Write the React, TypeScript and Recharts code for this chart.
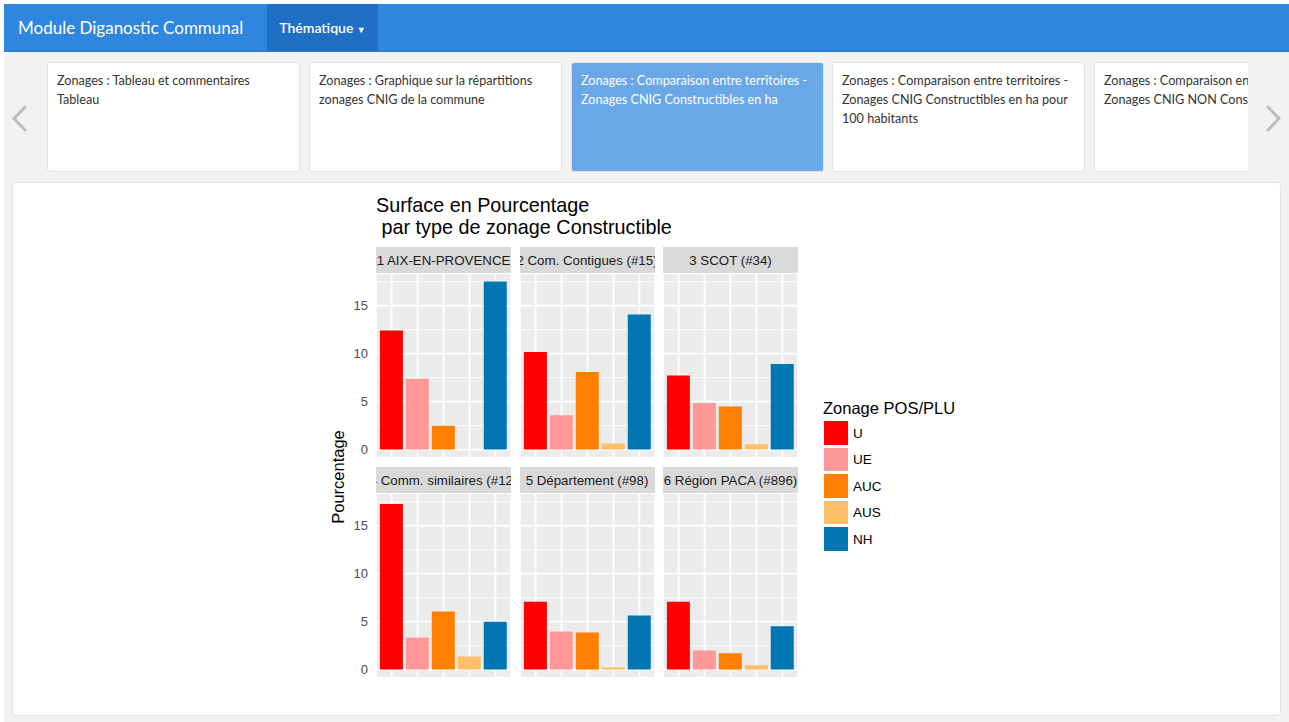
import React from 'react';
import { BarChart, Bar, XAxis, YAxis, CartesianGrid, Cell } from 'recharts';

// ---------- data ----------
const categories = ['U', 'UE', 'AUC', 'AUS', 'NH'];
const territories = [
  '1 AIX-EN-PROVENCE',
  '2 Com. Contigues (#15)',
  '3 SCOT (#34)',
  '4 Comm. similaires (#12)',
  '5 Département (#98)',
  '6 Région PACA (#896)',
];
const aixValues = [12.42, 7.4, 2.48, 0, 17.54];
const contiguesValues = [10.18, 3.59, 8.09, 0.63, 14.09];
const scotValues = [7.74, 4.85, 4.5, 0.56, 8.93];
const similairesValues = [17.26, 3.35, 6.07, 1.36, 4.99];
const departementValues = [7.08, 3.97, 3.87, 0.24, 5.65];
const regionValues = [7.08, 1.99, 1.71, 0.45, 4.53];
const yTicks = [0, 5, 10, 15];
const minorTicks = [2.5, 7.5, 12.5, 17.5];
const cardLabels = [
  'Zonages : Tableau et commentaires Tableau',
  'Zonages : Graphique sur la répartitions zonages CNIG de la commune',
  'Zonages : Comparaison entre territoires - Zonages CNIG Constructibles en ha',
  'Zonages : Comparaison entre territoires - Zonages CNIG Constructibles en ha pour 100 habitants',
  'Zonages : Comparaison entre territoires - Zonages CNIG NON Constructibles en ha',
];

// ---------- styles ----------
const palette = ['#FF0000', '#FF9999', '#FF7F00', '#FFBF69', '#0077B3'];
const allSeries = [aixValues, contiguesValues, scotValues, similairesValues, departementValues, regionValues];
const maxVal = Math.max(...allSeries.flat());
const domain: [number, number] = [-0.05 * maxVal, 1.05 * maxVal];

const PANEL_W = 135;
const PANEL_H = 185;
const AXIS_W = 40;
const colLefts = [376, 519.5, 663];
const rowTops = [273.3, 493.3];
const STRIP_H = 26.5;
const chartFont = '"Liberation Sans", Arial, Helvetica, sans-serif';
const uiFont = 'Lato, "Open Sans", sans-serif';

function Panel({ values, showAxis }: { values: number[]; showAxis: boolean }) {
  const data = categories.map((c, i) => ({ zone: c, value: values[i] }));
  const w = PANEL_W + (showAxis ? AXIS_W : 0);
  return (
    <BarChart
      width={w}
      height={PANEL_H}
      data={data}
      margin={{ top: 0, right: 0, bottom: 0, left: 0 }}
      barCategoryGap="5%"
    >
      <CartesianGrid fill="#EBEBEB" stroke="#FFFFFF" strokeWidth={0.9} vertical={false} yAxisId="minor" />
      <CartesianGrid stroke="#FFFFFF" strokeWidth={1.8} />
      <XAxis dataKey="zone" hide interval={0} padding={{ left: 2.6, right: 2.6 }} />
      <YAxis yAxisId="minor" hide type="number" domain={domain} ticks={minorTicks} interval={0} allowDataOverflow />
      <YAxis
        hide={!showAxis}
        width={AXIS_W}
        type="number"
        domain={domain}
        ticks={yTicks}
        interval={0}
        allowDataOverflow
        axisLine={false}
        tickLine={false}
        tick={{ fill: '#4D4D4D', fontSize: 13, fontFamily: chartFont }}
      />
      <Bar dataKey="value" isAnimationActive={false}>
        {data.map((d, i) => (
          <Cell key={d.zone} fill={palette[i]} />
        ))}
      </Bar>
    </BarChart>
  );
}

function Chevron({ left }: { left: boolean }) {
  return (
    <svg width={20} height={30} style={{ position: 'absolute', left: left ? 10 : 1263, top: 104 }}>
      <polyline
        points={left ? '16,2 4,14.5 16,27' : '4,2 16,14.5 4,27'}
        fill="none"
        stroke="#BDBDBD"
        strokeWidth={3}
      />
    </svg>
  );
}

export default function App() {
  const cardLefts = [47, 309, 571, 832, 1094];
  return (
    <div style={{ position: 'relative', width: 1289, height: 722, overflow: 'hidden', background: '#FFFFFF' }}>
      <style>{'body{margin:0}'}</style>
      {/* gray background */}
      <div style={{ position: 'absolute', left: 4, top: 4, width: 1285, height: 718, background: '#F2F2F2' }} />
      {/* navbar */}
      <div
        style={{
          position: 'absolute',
          left: 4,
          top: 4,
          width: 1285,
          height: 47,
          background: '#2E86DE',
          borderBottom: '1px solid #2A7CCF',
          fontFamily: uiFont,
        }}
      >
        <div style={{ position: 'absolute', left: 14, top: 0, height: 47, lineHeight: '47px', color: '#FFFFFF', fontSize: 17 }}>
          Module Diganostic Communal
        </div>
        <div
          style={{
            position: 'absolute',
            left: 263,
            top: 0,
            width: 111,
            height: 47,
            background: '#1F6FC4',
            color: '#FFFFFF',
            fontSize: 14,
            fontWeight: 600,
            lineHeight: '47px',
            textAlign: 'center',
          }}
        >
          Thématique <span style={{ fontSize: 9, verticalAlign: 'middle' }}>▼</span>
        </div>
      </div>
      {/* carousel */}
      <Chevron left />
      <Chevron left={false} />
      <div style={{ position: 'absolute', left: 0, top: 0, width: 1248, height: 180, overflow: 'hidden' }}>
        {cardLabels.map((label, i) => (
          <div
            key={label}
            style={{
              position: 'absolute',
              left: cardLefts[i],
              top: 62,
              width: 253,
              height: 110,
              boxSizing: 'border-box',
              border: '1px solid #E2E2E2',
              borderRadius: 3,
              background: i === 2 ? '#6AA7E7' : '#FFFFFF',
              color: i === 2 ? '#FFFFFF' : '#333333',
              fontFamily: uiFont,
              fontSize: 12.6,
              lineHeight: '19px',
              padding: '8px 9px',
            }}
          >
            <div style={{ width: 236 }}>{label}</div>
          </div>
        ))}
      </div>
      {/* content box */}
      <div
        style={{
          position: 'absolute',
          left: 12,
          top: 182,
          width: 1269,
          height: 534,
          boxSizing: 'border-box',
          background: '#FFFFFF',
          border: '1px solid #E3E3E3',
          borderRadius: 4,
        }}
      />
      {/* title */}
      <div
        style={{
          position: 'absolute',
          left: 376,
          top: 194.4,
          fontFamily: chartFont,
          fontSize: 19.8,
          lineHeight: '22px',
          color: '#000000',
          whiteSpace: 'pre',
        }}
      >
        {'Surface en Pourcentage\n par type de zonage Constructible'}
      </div>
      {/* y axis title */}
      <div
        style={{
          position: 'absolute',
          left: 337.5,
          top: 477,
          transform: 'translate(-50%, -50%) rotate(-90deg)',
          fontFamily: chartFont,
          fontSize: 16.5,
          color: '#000000',
          whiteSpace: 'nowrap',
        }}
      >
        Pourcentage
      </div>
      {/* facets */}
      {territories.map((t, idx) => {
        const row = Math.floor(idx / 3);
        const col = idx % 3;
        const showAxis = col === 0;
        return (
          <React.Fragment key={t}>
            <div
              style={{
                position: 'absolute',
                left: colLefts[col],
                top: rowTops[row] - STRIP_H,
                width: PANEL_W,
                height: STRIP_H,
                background: '#D9D9D9',
                overflow: 'hidden',
                display: 'flex',
                justifyContent: 'center',
                alignItems: 'center',
              }}
            >
              <span
                style={{
                  fontFamily: chartFont,
                  fontSize: 13.3,
                  color: '#1A1A1A',
                  whiteSpace: 'nowrap',
                  flexShrink: 0,
                }}
              >
                {t}
              </span>
            </div>
            <div
              style={{
                position: 'absolute',
                left: colLefts[col] - (showAxis ? AXIS_W : 0),
                top: rowTops[row],
              }}
            >
              <Panel values={allSeries[idx]} showAxis={showAxis} />
            </div>
          </React.Fragment>
        );
      })}
      {/* legend */}
      <div style={{ position: 'absolute', left: 823, top: 398, fontFamily: chartFont }}>
        <div style={{ fontSize: 16.5, lineHeight: '20px', color: '#000000', whiteSpace: 'nowrap' }}>Zonage POS/PLU</div>
        {categories.map((c, i) => (
          <div
            key={c}
            style={{ position: 'absolute', left: 1, top: 23 + i * 26.5, display: 'flex', alignItems: 'center', height: 24 }}
          >
            <div style={{ width: 24, height: 23.5, background: palette[i] }} />
            <span style={{ marginLeft: 5, fontSize: 13.5, color: '#000000' }}>{c}</span>
          </div>
        ))}
      </div>
    </div>
  );
}
